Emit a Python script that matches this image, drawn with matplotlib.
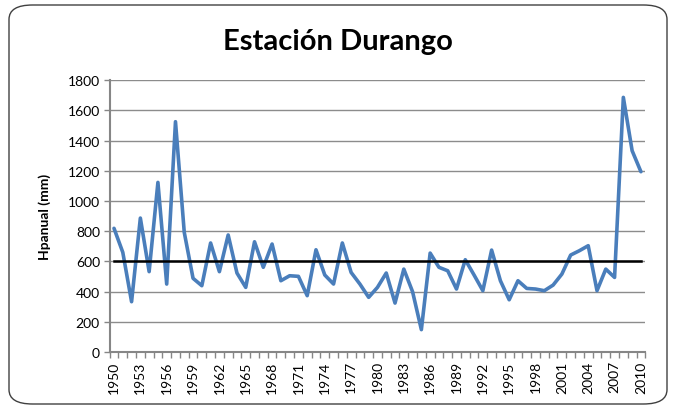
import matplotlib.pyplot as plt
from matplotlib.patches import FancyBboxPatch
from matplotlib.ticker import MultipleLocator, FixedLocator

years = list(range(1950, 2011))
hp_anual = [819, 660, 333, 887, 532, 1123, 450, 1525, 792, 488,
            439, 722, 532, 775, 523, 428, 730, 561, 715, 472,
            505, 501, 373, 677, 510, 450, 722, 527, 450, 362,
            428, 523, 324, 549, 399, 148, 655, 561, 538, 417,
            611, 510, 406, 675, 472, 346, 472, 421, 417, 406,
            443, 516, 642, 671, 704, 406, 549, 494, 1686, 1333,
            1194]
media = 600
labels_x = list(range(1950, 2011, 3))

plt.rcParams['font.family'] = ['Lato', 'DejaVu Sans']

fig = plt.figure(figsize=(6.75, 4.1), dpi=100)
ax = fig.add_axes([0.1624, 0.139, 0.7936, 0.663])

# borde redondeado del grafico
caja = FancyBboxPatch((9 / 675, 5 / 410), 658 / 675, 399 / 410,
                      boxstyle="round,pad=0,rounding_size=0.035",
                      transform=fig.transFigure, fill=False,
                      edgecolor='#404040', linewidth=1.0)
fig.patches.append(caja)

ax.plot(years, hp_anual, color='#4A7EBB', linewidth=2.6, zorder=3,
        solid_joinstyle='round', solid_capstyle='round')
ax.plot([years[0], years[-1]], [media, media], color='black', linewidth=1.8, zorder=4)

ax.set_xlim(years[0] - 0.5, years[-1] + 0.5)
ax.set_ylim(0, 1800)
ax.yaxis.set_major_locator(MultipleLocator(200))
ax.grid(axis='y', color='#8c8c8c', linewidth=1.0)
ax.set_axisbelow(True)

ax.xaxis.set_major_locator(FixedLocator(labels_x))
ax.xaxis.set_minor_locator(FixedLocator([y - 0.5 for y in years] + [years[-1] + 0.5]))
ax.set_xticklabels([str(y) for y in labels_x], rotation=90)
ax.tick_params(axis='x', which='major', length=0, pad=6, labelsize=10)
ax.tick_params(axis='x', which='minor', length=4, color='#868686', width=1)
ax.tick_params(axis='y', length=4, color='#868686', width=1, labelsize=10, pad=3)

for side in ['top', 'right']:
    ax.spines[side].set_visible(False)
for side in ['left', 'bottom']:
    ax.spines[side].set_color('#868686')
    ax.spines[side].set_linewidth(1.5)

ax.set_ylabel('Hpanual (mm)', fontsize=10, fontweight='bold', labelpad=12)
fig.text(0.5, 0.897, 'Estación Durango', ha='center', va='center',
         fontsize=21, fontweight='bold')

fig.savefig('out.png', dpi=100)
